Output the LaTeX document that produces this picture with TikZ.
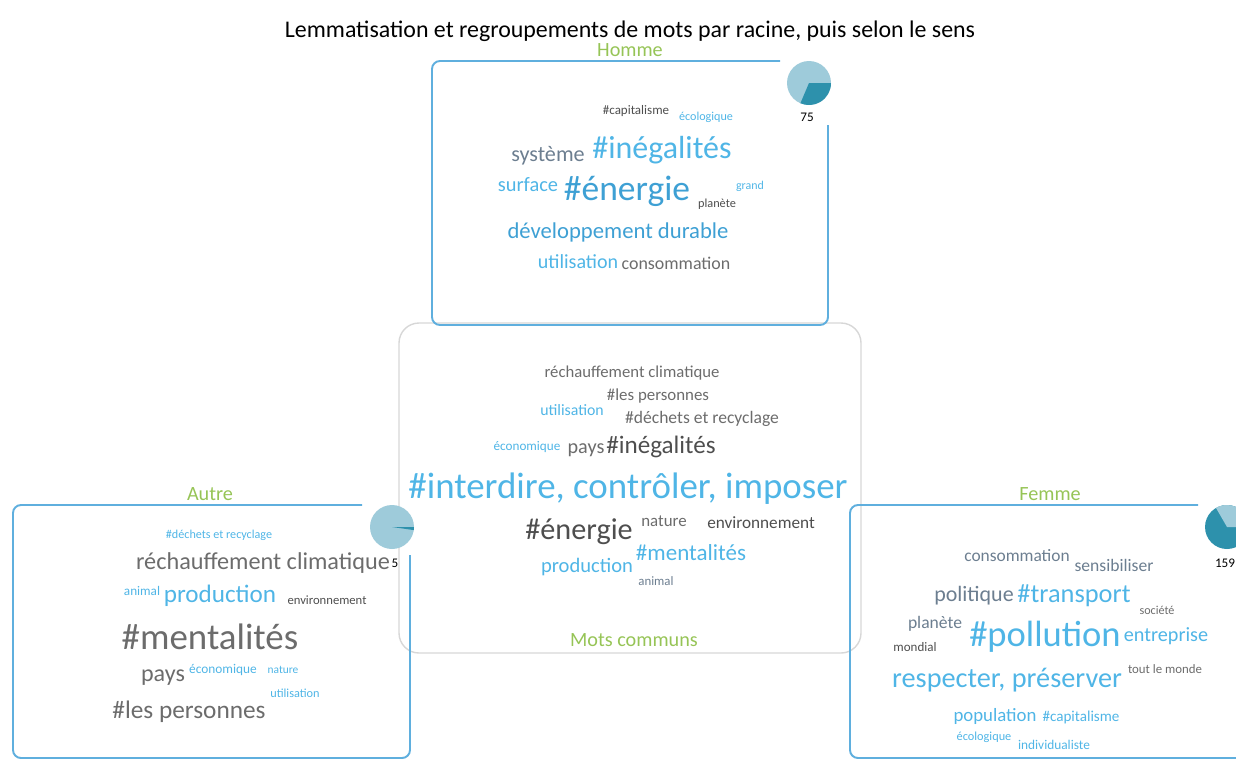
\documentclass[tikz,border=0pt]{standalone}
\usepackage{fontspec}
\setmainfont{Carlito}
\usepackage{tikz}
\usepackage{xcolor}
\definecolor{wblue}{RGB}{79,181,230}
\definecolor{wmblue}{RGB}{62,160,212}
\definecolor{wslate}{RGB}{108,126,144}
\definecolor{wgray}{RGB}{108,108,108}
\definecolor{wdark}{RGB}{78,78,78}
\definecolor{wgreen}{RGB}{150,196,86}
\definecolor{boxblue}{RGB}{95,175,222}
\definecolor{boxgray}{RGB}{215,215,215}
\definecolor{pielight}{RGB}{158,203,218}
\definecolor{piedark}{RGB}{45,145,172}
\newcommand{\wsz}[1]{\fontsize{#1}{#1}\selectfont}

\begin{document}
\begin{tikzpicture}[x=0.02cm, y=-0.02cm,
  wd/.style={inner sep=0pt, anchor=center},
  grouptitle/.style={wd, font=\wsz{11.5}, text=wgreen},
  frame/.style={boxblue, line width=1.1pt, rounded corners=0.16cm}]
  \useasboundingbox (0,0) rectangle (1236,762);
  \clip (0,0) rectangle (1236,762);
  \def\R{0.44cm}
  % subtitle
  \node[wd, font=\wsz{13.6}] (sub) at (630,31)
    {Lemmatisation et regroupements de mots par racine, puis selon le sens};
  % common words box
  \draw[boxgray, line width=0.8pt, rounded corners=0.4cm]
    (399,323) rectangle (861,653);
  % group frames
  \draw[frame] (780,61) -- (432,61) -- (432,325) -- (828,325) -- (828,125);
  \draw[frame] (362,505) -- (13,505) -- (13,758) -- (410,758) -- (410,555);
  \draw[frame] (1198,505) -- (850,505) -- (850,758) -- (1240,758);
  % group titles
  \node[grouptitle] (tH) at (630,50) {Homme};
  \node[grouptitle] (tA) at (210,494) {Autre};
  \node[grouptitle] (tF) at (1050,494) {Femme};
  \node[grouptitle] (tC) at (634,640) {Mots communs};
  % pies
  \coordinate (pH) at (809,83);
  \coordinate (pA) at (392,527);
  \coordinate (pF) at (1227,527);
  \fill[pielight] (pH) circle (\R);
  \fill[piedark] (pH) -- ++(0:\R) arc[start angle=0, end angle=-113, radius=\R] -- cycle;
  \fill[pielight] (pA) circle (\R);
  \fill[piedark] (pA) -- ++(0:\R) arc[start angle=0, end angle=-8, radius=\R] -- cycle;
  \fill[piedark] (pF) circle (\R);
  \fill[pielight] (pF) -- ++(0:\R) arc[start angle=0, end angle=120, radius=\R] -- cycle;
  \node[wd, font=\wsz{7.5}] (nH) at (807,117) {75};
  \node[wd, font=\wsz{7.5}] (nA) at (395,563) {5};
  \node[wd, font=\wsz{7.5}] (nF) at (1225,563) {159};
  % Homme words
  \node[wd, font=\wsz{7.4}, text=wdark] (h1) at (636,111) {\#capitalisme};
  \node[wd, font=\wsz{6.9}, text=wblue] (h2) at (706,117) {écologique};
  \node[wd, font=\wsz{12.6}, text=wslate] (h3) at (548,156) {système};
  \node[wd, font=\wsz{18.2}, text=wblue] (h4) at (662,150) {\#inégalités};
  \node[wd, font=\wsz{11.6}, text=wblue] (h5) at (528,185) {surface};
  \node[wd, font=\wsz{20.2}, text=wmblue] (h6) at (627,191) {\#énergie};
  \node[wd, font=\wsz{6.8}, text=wblue] (h7) at (750,186) {grand};
  \node[wd, font=\wsz{7}, text=wdark] (h8) at (717,204) {planète};
  \node[wd, font=\wsz{12.9}, text=wmblue] (h9) at (618,232) {développement durable};
  \node[wd, font=\wsz{11.4}, text=wblue] (h10) at (578,262) {utilisation};
  \node[wd, font=\wsz{10.2}, text=wgray] (h11) at (676,263) {consommation};
  % common words
  \node[wd, font=\wsz{9.5}, text=wgray] (c1) at (632,373) {réchauffement climatique};
  \node[wd, font=\wsz{9.6}, text=wgray] (c2) at (658,396) {\#les personnes};
  \node[wd, font=\wsz{9}, text=wblue] (c3) at (572,410) {utilisation};
  \node[wd, font=\wsz{10}, text=wgray] (c4) at (702,419) {\#déchets et recyclage};
  \node[wd, font=\wsz{7.5}, text=wblue] (c5) at (527,447) {économique};
  \node[wd, font=\wsz{11.5}, text=wgray] (c6) at (586,450) {pays};
  \node[wd, font=\wsz{14.3}, text=wdark] (c7) at (661,447) {\#inégalités};
  \node[wd, font=\wsz{21}, text=wblue] (c8) at (628,489) {\#interdire, contrôler, imposer};
  \node[wd, font=\wsz{17.2}, text=wdark] (c9) at (579,532) {\#énergie};
  \node[wd, font=\wsz{9.6}, text=wgray] (c10) at (664,521) {nature};
  \node[wd, font=\wsz{9.8}, text=wdark] (c11) at (761,523) {environnement};
  \node[wd, font=\wsz{13.1}, text=wblue] (c12) at (691,553) {\#mentalités};
  \node[wd, font=\wsz{11.7}, text=wblue] (c13) at (587,567) {production};
  \node[wd, font=\wsz{7.3}, text=wslate] (c14) at (656,581) {animal};
  % Autre words
  \node[wd, font=\wsz{6.9}, text=wblue] (a1) at (219,535) {\#déchets et recyclage};
  \node[wd, font=\wsz{13.8}, text=wgray] (a2) at (263,563) {réchauffement climatique};
  \node[wd, font=\wsz{7.5}, text=wblue] (a3) at (142,591) {animal};
  \node[wd, font=\wsz{14.3}, text=wblue] (a4) at (220,596) {production};
  \node[wd, font=\wsz{7.2}, text=wdark] (a5) at (327,600) {environnement};
  \node[wd, font=\wsz{21}, text=wgray] (a6) at (210,637) {\#mentalités};
  \node[wd, font=\wsz{13.7}, text=wgray] (a7) at (163,678) {pays};
  \node[wd, font=\wsz{7.6}, text=wblue] (a8) at (223,670) {économique};
  \node[wd, font=\wsz{6.5}, text=wblue] (a9) at (283,670) {nature};
  \node[wd, font=\wsz{7}, text=wblue] (a10) at (295,693) {utilisation};
  \node[wd, font=\wsz{14.4}, text=wgray] (a11) at (189,712) {\#les personnes};
  % Femme words
  \node[wd, font=\wsz{9.9}, text=wslate] (f1) at (1017,556) {consommation};
  \node[wd, font=\wsz{10}, text=wslate] (f2) at (1114,565) {sensibiliser};
  \node[wd, font=\wsz{12.5}, text=wslate] (f3) at (974,596) {politique};
  \node[wd, font=\wsz{15}, text=wblue] (f4) at (1074,596) {\#transport};
  \node[wd, font=\wsz{6.9}, text=wgray] (f5) at (1157,610) {société};
  \node[wd, font=\wsz{10}, text=wslate] (f6) at (935,624) {planète};
  \node[wd, font=\wsz{7.4}, text=wdark] (f7) at (915,647) {mondial};
  \node[wd, font=\wsz{20.8}, text=wblue] (f8) at (1045,637) {\#pollution};
  \node[wd, font=\wsz{11.5}, text=wblue] (f9) at (1166,636) {entreprise};
  \node[wd, font=\wsz{7.3}, text=wgray] (f10) at (1165,669) {tout le monde};
  \node[wd, font=\wsz{16.1}, text=wblue] (f11) at (1007,680) {respecter, préserver};
  \node[wd, font=\wsz{10.7}, text=wblue] (f12) at (995,716) {population};
  \node[wd, font=\wsz{8.6}, text=wblue] (f13) at (1081,717) {\#capitalisme};
  \node[wd, font=\wsz{7}, text=wblue] (f14) at (984,737) {écologique};
  \node[wd, font=\wsz{7.6}, text=wblue] (f15) at (1054,745) {individualiste};
\end{tikzpicture}
\end{document}
